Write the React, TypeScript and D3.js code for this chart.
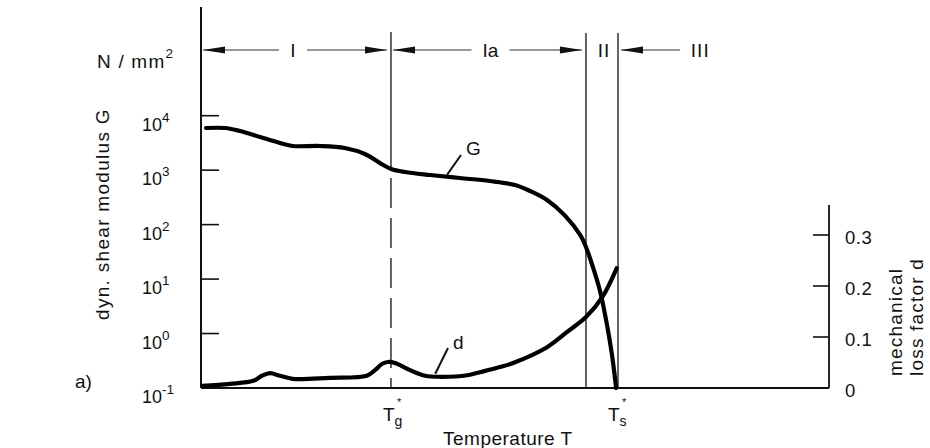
import React from 'react';
import * as d3 from 'd3';

// temperature in arbitrary units (0 = left axis, 100 = right axis)
const tempG = [0.8, 3.8, 6.2, 9.4, 12.6, 14.6, 19.0, 22.9, 26.1, 28.5, 30.3, 32.5, 36.5, 41.2, 46.0, 50.0, 52.4, 55.1, 58.0, 60.4, 61.3, 62.4, 63.5, 64.6, 65.4, 65.9, 66.1];
const modulusG = [5940, 5940, 5240, 4060, 3160, 2780, 2780, 2550, 1980, 1350, 1050, 925, 815, 718, 632, 533, 414, 283, 145, 64, 38.8, 16.7, 6.3, 1.56, 0.44, 0.16, 0.1];

const tempD = [0.2, 4.6, 8.3, 9.7, 11.0, 12.6, 14.6, 20.5, 26.4, 27.7, 28.8, 29.8, 30.9, 33.3, 35.7, 38.1, 42.4, 44.4, 47.6, 49.7, 55.1, 58.3, 61.3, 63.9, 66.2];
const lossD = [0.004, 0.008, 0.014, 0.024, 0.029, 0.024, 0.018, 0.020, 0.024, 0.035, 0.047, 0.051, 0.049, 0.035, 0.024, 0.022, 0.025, 0.031, 0.041, 0.049, 0.080, 0.110, 0.139, 0.178, 0.235];

const gTicks = [-1, 0, 1, 2, 3, 4];
const dTicks = [0, 0.1, 0.2, 0.3];

const tg = 30.25;
const lineII = 61.3;
const ts = 66.4;
const tIIIend = 76.3;
const tIIIlabel = 79.5;

const font = 'Liberation Sans, Arial, Helvetica, sans-serif';
const ink = '#111';

export default function App() {
  const x = d3.scaleLinear().domain([0, 100]).range([201, 829]);
  const yG = d3.scaleLog().domain([0.1, 10000]).range([388, 115.7]);
  const yD = d3.scaleLinear().domain([0, 0.3]).range([388, 235]);

  const gLine = d3.line<number>()
    .x((_, i) => x(tempG[i]))
    .y(v => yG(v))
    .curve(d3.curveCatmullRom.alpha(0.5));
  const dLine = d3.line<number>()
    .x((_, i) => x(tempD[i]))
    .y(v => yD(v))
    .curve(d3.curveCatmullRom.alpha(0.5));

  const ay = 50;
  const head = (tip: number, dir: number) =>
    `M${tip},${ay} L${tip + dir * 22},${ay - 3.5} L${tip + dir * 22},${ay + 3.5} Z`;

  const regions = [
    { label: 'I', from: 0, to: tg, half: 14, shift: -3 },
    { label: 'Ia', from: tg, to: lineII, half: 19, shift: 2 },
  ];

  const txt = { fontFamily: font, fill: ink } as const;
  const gAtTg = yG(1050);

  return (
    <svg width={930} height={448} style={{ position: 'absolute', left: 0, top: 0, background: '#fff' }}>
      {/* axes */}
      <line x1={x(0)} x2={x(0)} y1={7} y2={388} stroke={ink} strokeWidth={2} />
      <line x1={x(100)} x2={x(100)} y1={205} y2={388} stroke={ink} strokeWidth={1.8} />
      <line x1={x(0)} x2={x(100)} y1={388} y2={388} stroke={ink} strokeWidth={1.8} />

      {gTicks.map(e => (
        <g key={e}>
          <line x1={x(0)} x2={x(0) + 18} y1={yG(Math.pow(10, e))} y2={yG(Math.pow(10, e))} stroke={ink} strokeWidth={1.6} />
          <text x={142} y={yG(Math.pow(10, e)) + 15} fontSize={18} {...txt}>
            10<tspan dy={-9} fontSize={13.5}>{e < 0 ? '-' + Math.abs(e) : e}</tspan>
          </text>
        </g>
      ))}
      {dTicks.map(v => (
        <g key={v}>
          {v > 0 && <line x1={x(100) - 16} x2={x(100)} y1={yD(v)} y2={yD(v)} stroke={ink} strokeWidth={1.6} />}
          <text x={845} y={yD(v) + 9} fontSize={18.5} {...txt} letterSpacing={0.5}>{v === 0 ? '0' : v.toFixed(1)}</text>
        </g>
      ))}

      {/* region boundaries */}
      <line x1={x(tg)} x2={x(tg)} y1={32} y2={gAtTg} stroke={ink} strokeWidth={1.3} />
      <line x1={x(tg)} x2={x(tg)} y1={gAtTg + 9} y2={388} stroke={ink} strokeWidth={1.3} strokeDasharray="30 10" />
      <line x1={x(lineII)} x2={x(lineII)} y1={33} y2={388} stroke={ink} strokeWidth={1.3} />
      <line x1={x(ts)} x2={x(ts)} y1={33} y2={388} stroke={ink} strokeWidth={1.3} />

      {/* region arrows */}
      {regions.map(r => {
        const l = x(r.from) + 2;
        const rr = x(r.to) - 4;
        const c = (x(r.from) + x(r.to)) / 2 + r.shift;
        return (
          <g key={r.label}>
            <line x1={l} x2={c - r.half} y1={ay} y2={ay} stroke="#333" strokeWidth={1.2} />
            <line x1={c + r.half} x2={rr} y1={ay} y2={ay} stroke="#333" strokeWidth={1.2} />
            <path d={head(l, 1)} fill={ink} />
            <path d={head(rr, -1)} fill={ink} />
            <text x={c} y={ay + 7} textAnchor="middle" fontSize={19} {...txt}>{r.label}</text>
          </g>
        );
      })}
      <text x={(x(lineII) + x(ts)) / 2 + 2} y={ay + 7} textAnchor="middle" fontSize={19} {...txt} letterSpacing={1}>II</text>
      <line x1={x(ts) + 3} x2={x(tIIIend)} y1={ay} y2={ay} stroke="#333" strokeWidth={1.2} />
      <path d={head(x(ts) + 3, 1)} fill={ink} />
      <text x={x(tIIIlabel)} y={ay + 7} textAnchor="middle" fontSize={19} {...txt} letterSpacing={1}>III</text>

      {/* curves */}
      <path d={gLine(modulusG) ?? ''} fill="none" stroke="#000" strokeWidth={4.2} strokeLinecap="round" strokeLinejoin="round" />
      <path d={dLine(lossD) ?? ''} fill="none" stroke="#000" strokeWidth={4.2} strokeLinecap="round" strokeLinejoin="round" />

      {/* curve labels */}
      <line x1={x(39.2)} x2={461} y1={yG(760) - 2} y2={155} stroke={ink} strokeWidth={2} />
      <text x={466} y={155} fontSize={19} {...txt}>G</text>
      <line x1={x(37.3)} x2={448} y1={yD(0.022) - 3} y2={348} stroke={ink} strokeWidth={2} />
      <text x={453} y={349} fontSize={19} {...txt}>d</text>

      {/* unit and axis titles */}
      <text x={97} y={68} fontSize={19} {...txt} letterSpacing={1.2}>
        N / mm<tspan dy={-10} fontSize={13.5}>2</tspan>
      </text>
      <text transform="translate(109,214) rotate(-90)" textAnchor="middle" fontSize={19} {...txt} letterSpacing={1.3}>dyn. shear modulus G</text>
      <text transform="translate(902,376) rotate(-90)" fontSize={19} {...txt} letterSpacing={1.2}>mechanical</text>
      <text transform="translate(923,376) rotate(-90)" fontSize={19} {...txt} letterSpacing={1.2}>loss factor d</text>

      {/* temperature labels */}
      <text x={x(tg) - 8} y={421} fontSize={19} {...txt}>
        T<tspan fontSize={14} dy={5}>g</tspan>
      </text>
      <text x={x(tg) + 6} y={406} fontSize={11} {...txt}>*</text>
      <text x={x(ts) - 10} y={421} fontSize={19} {...txt}>
        T<tspan fontSize={14} dy={5}>s</tspan>
      </text>
      <text x={x(ts) + 4} y={406} fontSize={11} {...txt}>*</text>
      <text x={443} y={445} fontSize={19} {...txt} letterSpacing={0.5}>Temperature T</text>

      <text x={75} y={388} fontSize={19} {...txt}>a)</text>
    </svg>
  );
}
